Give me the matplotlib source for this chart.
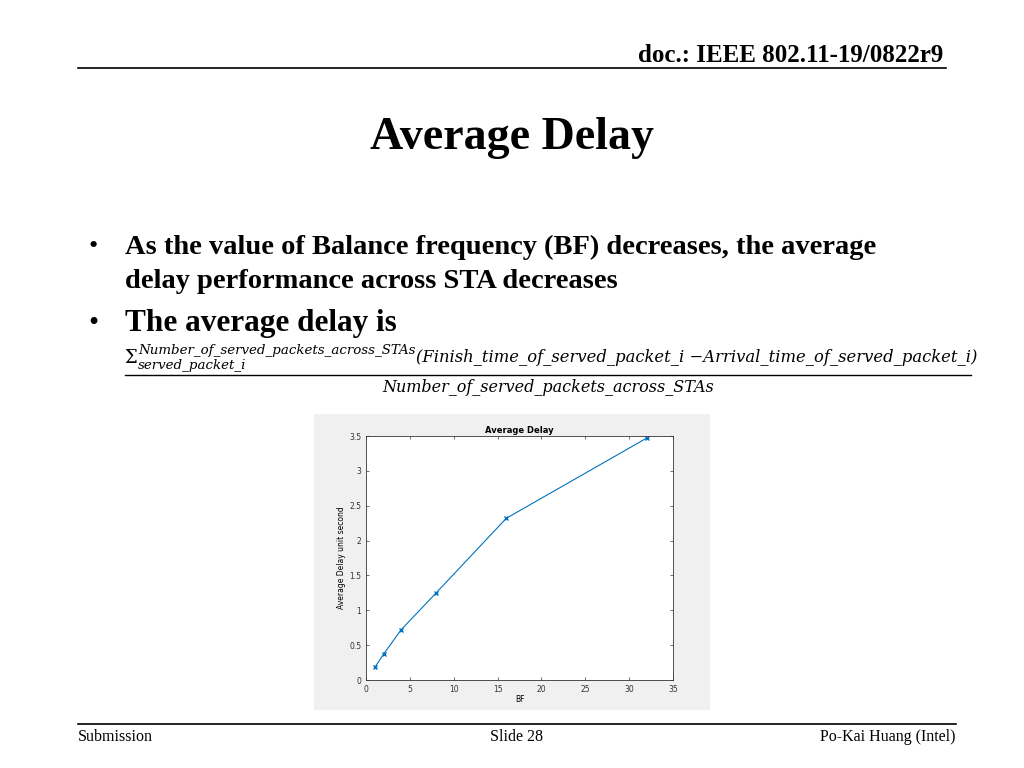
import matplotlib
matplotlib.use("Agg")
import matplotlib.pyplot as plt
from matplotlib.lines import Line2D
from matplotlib.patches import Rectangle

# data
bf = [1, 2, 4, 8, 16, 32]
delay = [0.18, 0.37, 0.72, 1.25, 2.32, 3.47]
xticks = [0, 5, 10, 15, 20, 25, 30, 35]
yticks = [0, 0.5, 1, 1.5, 2, 2.5, 3, 3.5]

W, H = 1024, 768
fig = plt.figure(figsize=(W / 100, H / 100), dpi=100)
serif = "Liberation Serif"

def px(x, y):
    return x / W, 1 - y / H

def hline(y, x0, x1, lw=1.2):
    fig.add_artist(Line2D([x0 / W, x1 / W], [1 - y / H] * 2, color="black", lw=lw))

# header / footer
fig.text(*px(943, 55), "doc.: IEEE 802.11-19/0822r9", ha="right", va="center",
         fontsize=18, fontweight="bold", family=serif)
hline(68, 78, 946)
hline(724, 78, 956)
fig.text(*px(78, 737), "Submission", va="center", fontsize=11.5, family=serif)
fig.text(*px(516, 737), "Slide 28", ha="center", va="center", fontsize=11.5, family=serif)
fig.text(*px(956, 737), "Po-Kai Huang (Intel)", ha="right", va="center", fontsize=11.5, family=serif)

# title and bullets
fig.text(*px(512, 138), "Average Delay", ha="center", va="center",
         fontsize=33, fontweight="bold", family=serif)
fig.text(*px(88, 247), "\u2022", va="center", fontsize=19, family=serif)
fig.text(*px(125, 247), "As the value of Balance frequency (BF) decreases, the average",
         va="center", fontsize=20.5, fontweight="bold", family=serif)
fig.text(*px(125, 281), "delay performance across STA decreases",
         va="center", fontsize=20.5, fontweight="bold", family=serif)
fig.text(*px(88, 324), "\u2022", va="center", fontsize=21, family=serif)
fig.text(*px(125, 324), "The average delay is", va="center", fontsize=22.5,
         fontweight="bold", family=serif)

# formula
fig.text(*px(124, 358), "\u03a3", va="center", fontsize=13, family="DejaVu Serif")
fig.text(*px(138, 350), "Number_of_served_packets_across_STAs", va="center",
         fontsize=9.6, style="italic", family="DejaVu Serif")
fig.text(*px(138, 366), "served_packet_i", va="center",
         fontsize=9.6, style="italic", family="DejaVu Serif")
fig.text(*px(416, 357), "(Finish_time_of_served_packet_i \u2212Arrival_time_of_served_packet_i)",
         va="center", fontsize=11.8, style="italic", family="DejaVu Serif")
hline(375, 125, 971, lw=1.0)
fig.text(*px(548, 387), "Number_of_served_packets_across_STAs", ha="center", va="center",
         fontsize=11.5, style="italic", family="DejaVu Serif")

# chart panel
fig.add_artist(Rectangle((314 / W, 1 - 710 / H), 396 / W, 296 / H, zorder=-10,
                         transform=fig.transFigure, facecolor="#f0f0f0", edgecolor="none"))
ax = fig.add_axes([366 / W, 1 - 680 / H, 307 / W, 244 / H])
ax.set_zorder(5)
ax.plot(bf, delay, color="#0072bd", lw=0.8, marker="x", ms=3)
ax.set_xlim(0, 35)
ax.set_ylim(0, 3.5)
ax.set_xticks(xticks)
ax.set_yticks(yticks)
ax.set_yticklabels(["0", "0.5", "1", "1.5", "2", "2.5", "3", "3.5"])
ax.tick_params(labelsize=5.5, direction="in", length=2, width=0.5, colors="#333333",
               top=True, right=True)
for s in ax.spines.values():
    s.set_linewidth(0.6)
    s.set_color("#333333")
ax.set_title("Average Delay", fontsize=6, fontweight="bold", pad=2)
ax.set_xlabel("BF", fontsize=5.5, labelpad=1)
ax.set_ylabel("Average Delay unit second", fontsize=5.5, labelpad=2)

fig.savefig("out.png", dpi=100)
